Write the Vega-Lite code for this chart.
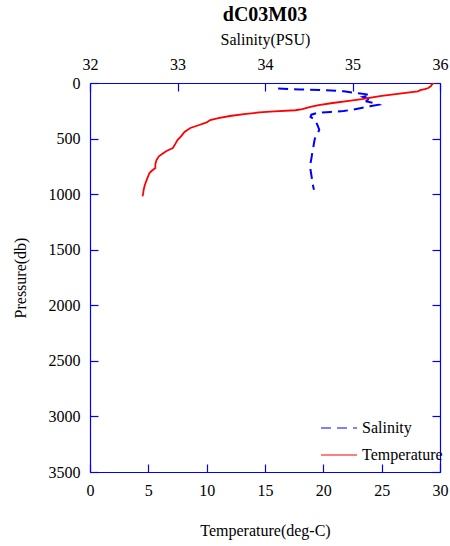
{
  "$schema": "https://vega.github.io/schema/vega-lite/v6.json",
  "width": 350,
  "height": 389,
  "autosize": "none",
  "padding": {"left": 90, "top": 83, "right": 10, "bottom": 74},
  "background": "white",
  "title": {
    "text": "dC03M03",
    "font": "Liberation Serif",
    "fontSize": 20,
    "fontWeight": "bold",
    "color": "black",
    "anchor": "middle",
    "frame": "group",
    "offset": 6
  },
  "config": {
    "view": {"stroke": null},
    "axis": {
      "domainColor": "blue",
      "domainWidth": 1.2,
      "tickColor": "blue",
      "tickWidth": 1.2,
      "tickSize": -8,
      "grid": false,
      "labelFlush": false,
      "labelFont": "Liberation Serif",
      "labelFontSize": 16,
      "labelColor": "black",
      "titleFont": "Liberation Serif",
      "titleFontSize": 16,
      "titleFontWeight": "normal",
      "titleColor": "black"
    },
    "legend": {
      "labelFont": "Liberation Serif",
      "labelFontSize": 16,
      "labelColor": "black"
    }
  },
  "datasets": {
    "salinity": [
      {"pressure": 50, "salinity": 34.15},
      {"pressure": 58, "salinity": 34.4},
      {"pressure": 65, "salinity": 34.7},
      {"pressure": 75, "salinity": 34.9},
      {"pressure": 90, "salinity": 35.05},
      {"pressure": 100, "salinity": 35.15},
      {"pressure": 110, "salinity": 35.2},
      {"pressure": 125, "salinity": 35.12},
      {"pressure": 140, "salinity": 35.17},
      {"pressure": 150, "salinity": 35.22},
      {"pressure": 165, "salinity": 35.15},
      {"pressure": 180, "salinity": 35.25},
      {"pressure": 195, "salinity": 35.3},
      {"pressure": 210, "salinity": 35.2},
      {"pressure": 225, "salinity": 35.1},
      {"pressure": 240, "salinity": 35.0},
      {"pressure": 252, "salinity": 34.9},
      {"pressure": 260, "salinity": 34.75},
      {"pressure": 268, "salinity": 34.6},
      {"pressure": 285, "salinity": 34.53},
      {"pressure": 305, "salinity": 34.52},
      {"pressure": 325, "salinity": 34.56},
      {"pressure": 345, "salinity": 34.58},
      {"pressure": 380, "salinity": 34.6},
      {"pressure": 420, "salinity": 34.62},
      {"pressure": 460, "salinity": 34.6},
      {"pressure": 500, "salinity": 34.57},
      {"pressure": 540, "salinity": 34.56},
      {"pressure": 590, "salinity": 34.55},
      {"pressure": 630, "salinity": 34.54},
      {"pressure": 680, "salinity": 34.53},
      {"pressure": 720, "salinity": 34.52},
      {"pressure": 780, "salinity": 34.52},
      {"pressure": 830, "salinity": 34.53},
      {"pressure": 880, "salinity": 34.54},
      {"pressure": 930, "salinity": 34.55},
      {"pressure": 960, "salinity": 34.56}
    ],
    "temperature": [
      {"pressure": 0, "temperature": 29.5},
      {"pressure": 5, "temperature": 29.4},
      {"pressure": 15, "temperature": 29.3},
      {"pressure": 30, "temperature": 29.2},
      {"pressure": 45, "temperature": 29.0},
      {"pressure": 55, "temperature": 28.7},
      {"pressure": 65, "temperature": 28.3},
      {"pressure": 75, "temperature": 28.1},
      {"pressure": 85, "temperature": 27.4},
      {"pressure": 100, "temperature": 26.2},
      {"pressure": 115, "temperature": 25.0},
      {"pressure": 130, "temperature": 24.2},
      {"pressure": 145, "temperature": 23.3},
      {"pressure": 160, "temperature": 22.2},
      {"pressure": 180, "temperature": 20.8},
      {"pressure": 200, "temperature": 19.6},
      {"pressure": 215, "temperature": 18.9},
      {"pressure": 235, "temperature": 18.2},
      {"pressure": 245, "temperature": 17.6},
      {"pressure": 255, "temperature": 15.8},
      {"pressure": 265, "temperature": 14.5},
      {"pressure": 280, "temperature": 13.2},
      {"pressure": 297, "temperature": 12.0},
      {"pressure": 315, "temperature": 11.0},
      {"pressure": 333, "temperature": 10.3},
      {"pressure": 355, "temperature": 10.0},
      {"pressure": 380, "temperature": 9.3},
      {"pressure": 405, "temperature": 8.6},
      {"pressure": 440, "temperature": 8.1},
      {"pressure": 480, "temperature": 7.8},
      {"pressure": 513, "temperature": 7.5},
      {"pressure": 550, "temperature": 7.3},
      {"pressure": 585, "temperature": 7.1},
      {"pressure": 610, "temperature": 6.6},
      {"pressure": 630, "temperature": 6.3},
      {"pressure": 660, "temperature": 5.9},
      {"pressure": 693, "temperature": 5.7},
      {"pressure": 730, "temperature": 5.6},
      {"pressure": 765, "temperature": 5.6},
      {"pressure": 790, "temperature": 5.3},
      {"pressure": 810, "temperature": 5.1},
      {"pressure": 860, "temperature": 4.9},
      {"pressure": 918, "temperature": 4.7},
      {"pressure": 960, "temperature": 4.6},
      {"pressure": 1000, "temperature": 4.55},
      {"pressure": 1020, "temperature": 4.5}
    ]
  },
  "layer": [
    {
      "data": {"name": "salinity"},
      "mark": {"type": "line", "strokeWidth": 2, "clip": true},
      "encoding": {
        "x": {
          "field": "salinity",
          "type": "quantitative",
          "scale": {"domain": [32, 36], "nice": false, "zero": false},
          "axis": {
            "orient": "top",
            "title": "Salinity(PSU)",
            "values": [32, 33, 34, 35, 36],
            "format": "d",
            "labelPadding": 19,
            "titlePadding": 9
          }
        },
        "y": {
          "field": "pressure",
          "type": "quantitative",
          "scale": {"domain": [0, 3500], "reverse": true, "nice": false},
          "axis": {
            "orient": "left",
            "title": "Pressure(db)",
            "values": [0, 500, 1000, 1500, 2000, 2500, 3000, 3500],
            "format": "d",
            "labelPadding": 18,
            "titlePadding": 20
          }
        },
        "order": {"field": "pressure", "type": "quantitative"},
        "color": {
          "datum": "Salinity",
          "scale": {"domain": ["Salinity", "Temperature"], "range": ["blue", "red"]},
          "legend": {
            "title": null,
            "orient": "none",
            "legendX": 230,
            "legendY": 326,
            "symbolType": "stroke",
            "symbolSize": 1300,
            "symbolStrokeWidth": 1.2,
            "labelFont": "Liberation Serif",
            "labelFontSize": 16,
            "labelOffset": 4,
            "rowPadding": 0
          }
        },
        "strokeDash": {
          "datum": "Salinity",
          "scale": {"domain": ["Salinity", "Temperature"], "range": [[10, 6], [1000, 1]]}
        }
      }
    },
    {
      "data": {"name": "temperature"},
      "mark": {"type": "line", "strokeWidth": 1.8, "clip": true},
      "encoding": {
        "x": {
          "field": "temperature",
          "type": "quantitative",
          "scale": {"domain": [0, 30], "nice": false, "zero": false},
          "axis": {
            "orient": "bottom",
            "title": "Temperature(deg-C)",
            "values": [0, 5, 10, 15, 20, 25, 30],
            "format": "d",
            "labelPadding": 18,
            "titlePadding": 24
          }
        },
        "y": {
          "field": "pressure",
          "type": "quantitative",
          "scale": {"domain": [0, 3500], "reverse": true, "nice": false},
          "axis": {
            "orient": "right",
            "title": null,
            "labels": false,
            "values": [0, 500, 1000, 1500, 2000, 2500, 3000, 3500]
          }
        },
        "order": {"field": "pressure", "type": "quantitative"},
        "color": {"datum": "Temperature"},
        "strokeDash": {"datum": "Temperature"}
      }
    }
  ],
  "resolve": {"scale": {"x": "independent", "y": "independent"}}
}
